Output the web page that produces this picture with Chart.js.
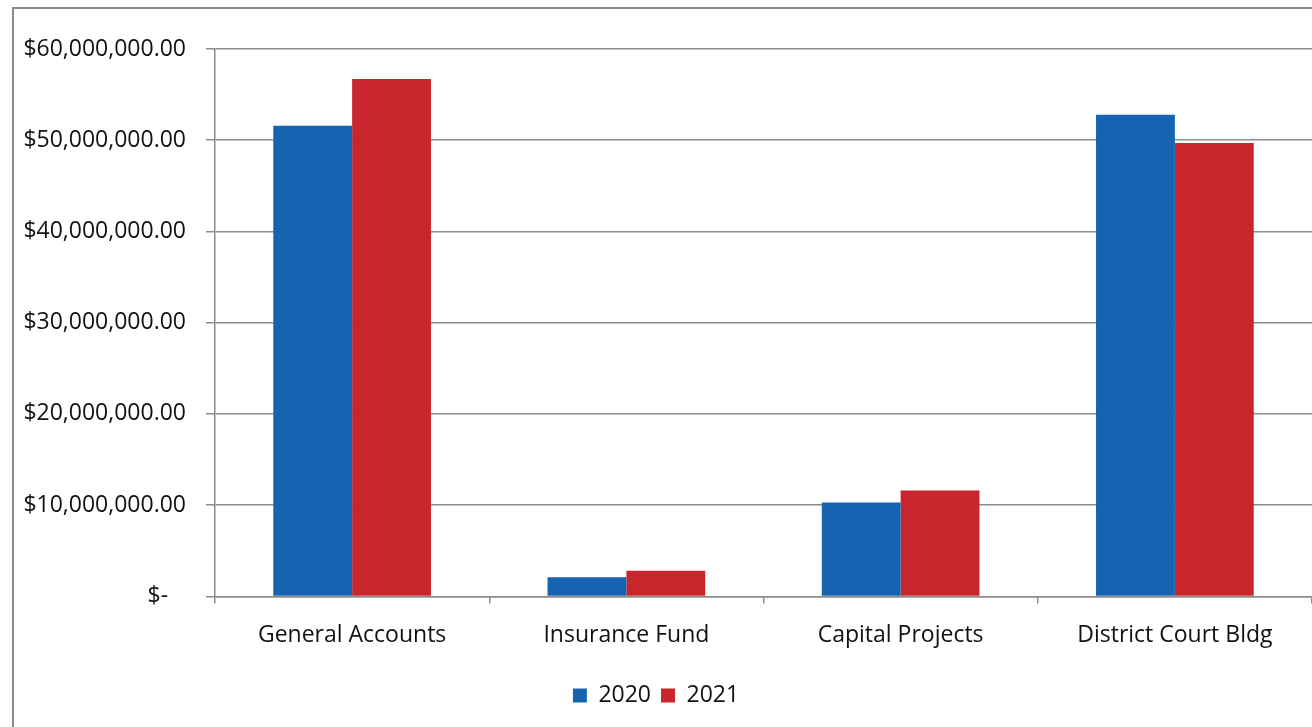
<!DOCTYPE html>
<html>
<head>
<meta charset="utf-8">
<script src="https://cdn.jsdelivr.net/npm/chart.js@4.4.0/dist/chart.umd.min.js"></script>
<style>
  html, body { margin: 0; padding: 0; background: #fff; }
  #wrap { position: relative; width: 1312px; height: 727px; overflow: hidden; }
  #frame { position: absolute; left: 12px; top: 7px; width: 1320px; height: 740px; border: 2px solid #8a8a8a; box-sizing: border-box; pointer-events: none; }
  canvas { position: absolute; left: 0; top: 0; }
</style>
</head>
<body>
<div id="wrap">
  <canvas id="fundsChart" width="1312" height="727"></canvas>
  <div id="frame"></div>
</div>
<script>
// values (dollars)
const categories = ["General Accounts", "Insurance Fund", "Capital Projects", "District Court Bldg"];
const values2020 = [51600000, 2100000, 10300000, 52800000];
const values2021 = [56700000, 2800000, 11600000, 49700000];
const yTicks = [0, 10000000, 20000000, 30000000, 40000000, 50000000, 60000000];

function money(v) {
  if (v === 0) return "$-   ";
  return "$" + v.toLocaleString("en-US", { minimumFractionDigits: 2 });
}

const labelFont = { family: "'Open Sans', Lato, sans-serif", size: 23 };

function createChart(chartElementId) {
  const ctx = document.getElementById(chartElementId).getContext("2d");
  new Chart(ctx, {
    type: "bar",
    data: {
      labels: categories,
      datasets: [
        { label: "2020", data: values2020, backgroundColor: "#1664b1" },
        { label: "2021", data: values2021, backgroundColor: "#c9252c" },
      ],
    },
    options: {
      responsive: false,
      animation: false,
      layout: { padding: { left: 0, right: 0, top: 49, bottom: 10 } },
      datasets: { bar: { categoryPercentage: 0.575, barPercentage: 1 } },
      scales: {
        y: {
          min: 0,
          max: 60000000,
          afterFit: (scale) => { scale.width = 215; },
          afterBuildTicks: (scale) => { scale.ticks = yTicks.map((v) => ({ value: v })); },
          ticks: { callback: (v) => money(v), color: "#111", font: labelFont, padding: 20 },
          grid: { color: "#8c8c8c", lineWidth: 1.5, tickLength: 9 },
          border: { display: true, color: "#8c8c8c", width: 1.5 },
        },
        x: {
          offset: true,
          afterFit: (scale) => { scale.height += 7; }, // extra room above the legend
          ticks: { color: "#111", font: labelFont, padding: 18 },
          grid: { offset: true, drawOnChartArea: false, drawTicks: true, tickLength: 7, color: "#8c8c8c", lineWidth: 1.5 },
          border: { display: true, color: "#8c8c8c", width: 1.5 },
        },
      },
      plugins: {
        legend: {
          position: "bottom",
          labels: { boxWidth: 14, boxHeight: 14, color: "#111", font: labelFont, padding: 10 },
        },
        tooltip: { enabled: false },
      },
    },
  });
}

createChart("fundsChart");
</script>
</body>
</html>
